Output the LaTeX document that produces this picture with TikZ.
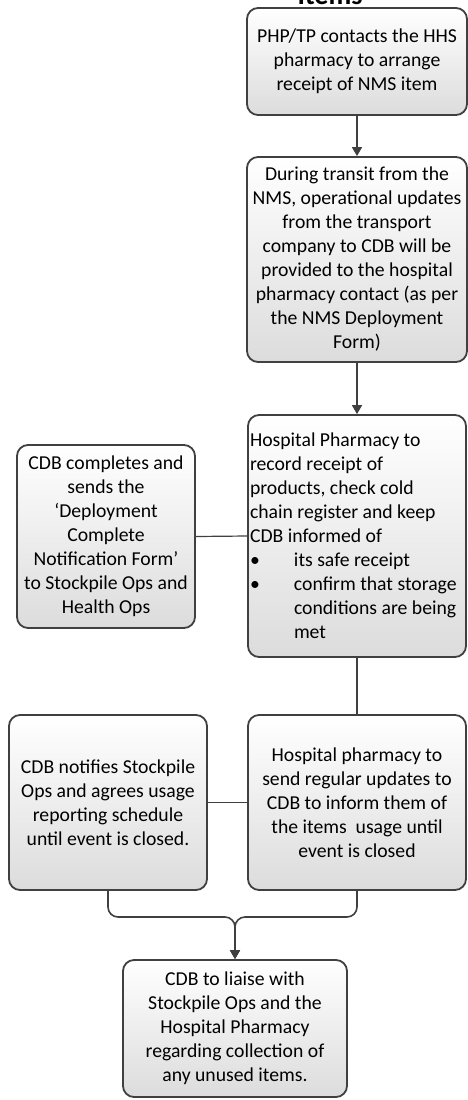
\documentclass[tikz,border=0pt]{standalone}
\usepackage{fontspec}
\setmainfont{Carlito}
\usetikzlibrary{arrows.meta}
\tikzset{>={Triangle[width=10pt,length=9pt]}}
\definecolor{flowline}{RGB}{64,64,64}
\definecolor{flowgray}{RGB}{220,220,220}
\newcommand{\pitem}{\makebox[44pt][l]{\textbullet}}

\tikzset{
  flowbox/.style={draw=flowline, line width=1.8pt, rounded corners=11pt,
    top color=white, bottom color=flowgray, align=center, inner xsep=5pt,
    font=\fontsize{19.7}{24}\selectfont},
  link/.style={draw=flowline, line width=1.6pt},
}

\begin{document}
\begin{tikzpicture}[x=1pt,y=-1pt]
  \useasboundingbox (0,0) rectangle (468,1100);
  \xdef\mainx{357};
  \node [font=\fontsize{28}{30}\selectfont\bfseries, anchor=base] (title) at (330,5) {Items};
  \node [flowbox, minimum width=220pt, minimum height=107pt] (contact) at (\mainx,61.5)
    {PHP/TP contacts the HHS\\ pharmacy to arrange\\ receipt of NMS item};
  \node [flowbox, minimum width=220pt, minimum height=205pt] (transit) at (\mainx,259.5)
    {During transit from the\\ NMS, operational updates\\ from the transport\\ company to CDB will be\\
     provided to the hospital\\ pharmacy contact (as per\\ the NMS Deployment\\ Form)};
  \node [flowbox, align=flush left, inner xsep=2pt, text width=214pt, minimum height=242pt] (record) at (\mainx,536)
    {Hospital Pharmacy to\\ record receipt of\\ products, check cold\\ chain register and keep\\
     CDB informed of\\ \pitem its safe receipt\\ \pitem confirm that storage\\
     \hspace*{44pt}conditions are being\\ \hspace*{44pt}met};
  \node [flowbox, minimum width=178pt, minimum height=183pt] (complete) at (106,536.5)
    {CDB completes and\\ sends the\\ ‘Deployment\\ Complete\\ Notification Form’\\
     to Stockpile Ops and\\ Health Ops};
  \node [flowbox, minimum width=218pt, minimum height=175pt] (updates) at (\mainx,802.5)
    {Hospital pharmacy to\\ send regular updates to\\ CDB to inform them of\\ the items\ \ usage until\\ event is closed};
  \node [flowbox, minimum width=198pt, minimum height=175pt] (notify) at (108,802.5)
    {CDB notifies Stockpile\\ Ops and agrees usage\\ reporting schedule\\ until event is closed.};
  \node [flowbox, minimum width=224pt, minimum height=137pt] (liaise) at (235,1028.5)
    {CDB to liaise with\\ Stockpile Ops and the\\ Hospital Pharmacy\\ regarding collection of\\ any unused items.};
  \coordinate (merge) at (235,917);
  \draw [link,->] (contact.south) -- (transit.north);
  \draw [link,->] (transit.south) -- (record.north);
  \draw [link, line width=1.2pt] (record.west) -- (complete.east);
  \draw [link, line width=1.2pt] (record.south) -- (updates.north);
  \draw [link, line width=1.2pt] (updates.west) -- (notify.east);
  \draw [link,->,rounded corners=10pt] (notify.south) |- (merge) -- (liaise.north);
  \draw [link,->,rounded corners=10pt] (updates.south) |- (merge) -- (liaise.north);
\end{tikzpicture}
\end{document}
